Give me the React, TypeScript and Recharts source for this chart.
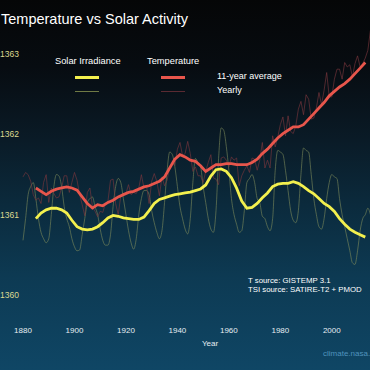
import React from 'react';
import { ComposedChart, Line, XAxis, YAxis } from 'recharts';

const years: number[] = [];
for (let y = 1880; y <= 2016; y++) years.push(y);

const tsiYearly = [
  1360.68, 1360.95, 1361.25, 1361.35, 1361.40, 1361.20, 1360.95, 1360.78, 1360.70, 1360.65,
  1360.70, 1361.00, 1361.35, 1361.50, 1361.48, 1361.35, 1361.10, 1360.95, 1360.85, 1360.70,
  1360.60, 1360.55, 1360.56, 1360.75, 1360.95, 1361.15, 1361.20, 1361.22, 1361.10, 1361.00,
  1360.82, 1360.68, 1360.62, 1360.62, 1360.75, 1361.10, 1361.35, 1361.45, 1361.40, 1361.20,
  1361.00, 1360.80, 1360.65, 1360.57, 1360.70, 1361.00, 1361.20, 1361.30, 1361.30, 1361.25,
  1361.05, 1360.90, 1360.78, 1360.70, 1360.80, 1361.15, 1361.55, 1361.78, 1361.75, 1361.60,
  1361.35, 1361.10, 1360.95, 1360.82, 1360.76, 1360.95, 1361.40, 1361.70, 1361.65, 1361.60,
  1361.35, 1361.15, 1360.95, 1360.82, 1360.78, 1361.05, 1361.70, 1362.08, 1362.05, 1361.85,
  1361.55, 1361.20, 1361.00, 1360.88, 1360.78, 1360.80, 1361.05, 1361.40, 1361.45, 1361.50,
  1361.40, 1361.20, 1361.15, 1360.98, 1360.95, 1360.85, 1360.80, 1360.95, 1361.55, 1361.80,
  1361.78, 1361.75, 1361.55, 1361.30, 1361.05, 1360.93, 1360.90, 1361.05, 1361.50, 1361.83,
  1361.80, 1361.78, 1361.50, 1361.20, 1361.00, 1360.85, 1360.82, 1360.95, 1361.20, 1361.40,
  1361.50, 1361.47, 1361.45, 1361.20, 1361.00, 1360.85, 1360.70, 1360.55, 1360.40, 1360.38,
  1360.55, 1360.80, 1360.95, 1361.00, 1361.08, 1361.00, null,
];

const avgYears = [
  1885, 1887, 1889, 1891, 1893, 1895, 1897, 1899, 1901, 1903, 1905, 1907, 1909, 1911, 1913,
  1915, 1917, 1919, 1921, 1923, 1925, 1927, 1929, 1931, 1933, 1935, 1937, 1939, 1941, 1943,
  1945, 1947, 1949, 1951, 1953, 1955, 1957, 1959, 1961, 1963, 1965, 1967, 1969, 1971, 1973,
  1975, 1977, 1979, 1981, 1983, 1985, 1987, 1989, 1991, 1993, 1995, 1997, 1999, 2001, 2003,
  2005, 2007, 2009, 2011, 2013,
];

const tsiAverage = [
  1360.95, 1361.02, 1361.06, 1361.08, 1361.08, 1361.06, 1361.02, 1360.93, 1360.85, 1360.82,
  1360.81, 1360.82, 1360.85, 1360.90, 1360.96, 1360.99, 1360.98, 1360.96, 1360.95, 1360.94,
  1360.94, 1360.97, 1361.05, 1361.14, 1361.19, 1361.21, 1361.23, 1361.25, 1361.26, 1361.27,
  1361.28, 1361.30, 1361.32, 1361.37, 1361.48, 1361.56, 1361.57, 1361.54, 1361.46, 1361.33,
  1361.17, 1361.08, 1361.09, 1361.14, 1361.21, 1361.27, 1361.35, 1361.38, 1361.39, 1361.39,
  1361.41, 1361.39, 1361.35, 1361.30, 1361.26, 1361.20, 1361.14, 1361.10, 1361.04, 1360.95,
  1360.88, 1360.82, 1360.78, 1360.75, 1360.72,
];

const tempAverage = [
  -0.22, -0.25, -0.28, -0.25, -0.23, -0.22, -0.21, -0.22, -0.24, -0.30,
  -0.36, -0.40, -0.37, -0.38, -0.35, -0.33, -0.30, -0.28, -0.26, -0.25,
  -0.23, -0.21, -0.20, -0.18, -0.16, -0.12, -0.04, 0.04, 0.08, 0.06,
  0.03, 0.02, -0.02, -0.07, -0.04, -0.01, -0.01, 0.00, 0.00, -0.01,
  -0.01, -0.01, 0.01, 0.04, 0.09, 0.13, 0.18, 0.23, 0.27, 0.30,
  0.33, 0.33, 0.35, 0.40, 0.45, 0.50, 0.55, 0.61, 0.65, 0.69,
  0.72, 0.76, 0.81, 0.86, 0.91,
];

const tempYearly = [
  -0.12, -0.08, -0.10, -0.16, -0.28, -0.33, -0.31, -0.36, -0.17, -0.10,
  -0.35, -0.22, -0.27, -0.31, -0.30, -0.22, -0.11, -0.11, -0.26, -0.17,
  -0.08, -0.15, -0.28, -0.37, -0.47, -0.26, -0.22, -0.39, -0.43, -0.48,
  -0.43, -0.44, -0.36, -0.34, -0.15, -0.14, -0.36, -0.46, -0.29, -0.27,
  -0.27, -0.19, -0.28, -0.26, -0.27, -0.22, -0.10, -0.22, -0.20, -0.36,
  -0.16, -0.09, -0.16, -0.29, -0.12, -0.20, -0.15, -0.03, 0.00, -0.02,
  0.13, 0.19, 0.07, 0.09, 0.20, 0.09, -0.07, -0.03, -0.11, -0.11,
  -0.17, -0.07, 0.01, 0.08, -0.13, -0.14, -0.19, 0.05, 0.06, 0.03,
  -0.03, 0.06, 0.03, 0.05, -0.20, -0.11, -0.06, -0.02, -0.08, 0.05,
  0.04, -0.06, 0.03, 0.19, -0.04, 0.03, -0.04, 0.25, 0.15, 0.24,
  0.35, 0.42, 0.25, 0.43, 0.29, 0.27, 0.34, 0.49, 0.56, 0.44,
  0.62, 0.58, 0.40, 0.41, 0.50, 0.64, 0.53, 0.66, 0.82, 0.60,
  0.60, 0.76, 0.85, 0.85, 0.76, 0.91, 0.87, 0.89, 0.78, 0.90,
  0.97, 0.87, 0.90, 0.95, 1.02, 1.20, 1.40,
];

const xTicks = [1880, 1900, 1920, 1940, 1960, 1980, 2000];
const tsiTicks = [1360, 1361, 1362, 1363];

const data = years.map((year, i) => {
  const k = avgYears.indexOf(year);
  return {
    year,
    tsiYearly: tsiYearly[i],
    tempYearly: tempYearly[i],
    tsiAverage: k >= 0 ? tsiAverage[k] : null,
    tempAverage: k >= 0 ? tempAverage[k] : null,
  };
});

const FONT = '"Liberation Sans", Arial, Helvetica, sans-serif';

const YTick = (props: any) => {
  const { y, payload } = props;
  return (
    <text x={0} y={y} dy={3} fill="#dcd990" fontSize={8.5} fontFamily={FONT} textAnchor="start">
      {payload.value}
    </text>
  );
};

const abs = (left: number, top: number, extra: any = {}) => ({
  position: 'absolute' as const,
  left,
  top,
  whiteSpace: 'nowrap' as const,
  fontFamily: FONT,
  lineHeight: 1,
  ...extra,
});

export default function App() {
  return (
    <div
      style={{
        position: 'fixed',
        left: 0,
        top: 0,
        width: 370,
        height: 370,
        overflow: 'hidden',
        background:
          'linear-gradient(to bottom, #050607 0%, #070c11 18%, #0a1b27 38%, #0b2a3c 55%, #0d3a53 75%, #0f4665 100%)',
      }}
    >
      <div style={{ position: 'absolute', left: 0, top: 0 }}>
        <ComposedChart
          width={373}
          height={370}
          data={data}
          margin={{ top: 22, right: 0, bottom: 21, left: 0 }}
        >
          <XAxis
            dataKey="year"
            type="number"
            domain={[1880, 2016]}
            ticks={xTicks}
            axisLine={false}
            tickLine={false}
            tick={{ fill: '#e6edf2', fontSize: 8, fontFamily: FONT }}
            height={30}
          />
          <YAxis
            yAxisId="tsi"
            orientation="left"
            domain={[1359.7, 1363.4]}
            ticks={tsiTicks}
            axisLine={false}
            tickLine={false}
            width={23}
            tick={<YTick />}
            allowDataOverflow
          />
          <YAxis
            yAxisId="temp"
            orientation="right"
            domain={[-1.4, 1.275]}
            hide
            allowDataOverflow
          />
          <Line
            yAxisId="tsi"
            dataKey="tsiYearly"
            stroke="#7f8c5c"
            strokeWidth={0.7}
            strokeOpacity={0.85}
            dot={false}
            type="monotone"
            isAnimationActive={false}
          />
          <Line
            yAxisId="temp"
            dataKey="tempYearly"
            stroke="#7a363c"
            strokeWidth={0.7}
            strokeOpacity={0.9}
            dot={false}
            type="linear"
            isAnimationActive={false}
          />
          <Line
            yAxisId="temp"
            dataKey="tempAverage"
            stroke="#e8564c"
            strokeWidth={2.8}
            dot={false}
            type="linear"
            connectNulls
            isAnimationActive={false}
          />
          <Line
            yAxisId="tsi"
            dataKey="tsiAverage"
            stroke="#f3f04e"
            strokeWidth={2.8}
            dot={false}
            type="linear"
            connectNulls
            isAnimationActive={false}
          />
        </ComposedChart>
      </div>

      <div style={abs(1, 12, { color: '#ffffff', fontSize: 14.5 })}>Temperature vs Solar Activity</div>

      <div style={abs(55, 57, { color: '#ffffff', fontSize: 9.3 })}>Solar Irradiance</div>
      <div style={abs(147, 57, { color: '#ffffff', fontSize: 9.3 })}>Temperature</div>
      <div style={abs(75, 76, { width: 24, height: 3, background: '#f3f04e' })} />
      <div style={abs(161, 76, { width: 24, height: 3, background: '#e8564c' })} />
      <div style={abs(75, 91, { width: 24, height: 1, background: '#6f7a45' })} />
      <div style={abs(161, 91, { width: 24, height: 1, background: '#5a2a32' })} />
      <div style={abs(217, 72, { color: '#ffffff', fontSize: 9 })}>11-year average</div>
      <div style={abs(217, 86, { color: '#ffffff', fontSize: 9 })}>Yearly</div>

      <div style={abs(248, 277, { color: '#ffffff', fontSize: 7.8 })}>T source: GISTEMP 3.1</div>
      <div style={abs(248, 286, { color: '#ffffff', fontSize: 7.8 })}>TSI source: SATIRE-T2 + PMOD</div>

      <div style={abs(202, 340, { color: '#e6edf2', fontSize: 8 })}>Year</div>
      <div style={abs(323, 350, { color: '#4f93bd', fontSize: 8 })}>climate.nasa.gov</div>
    </div>
  );
}
